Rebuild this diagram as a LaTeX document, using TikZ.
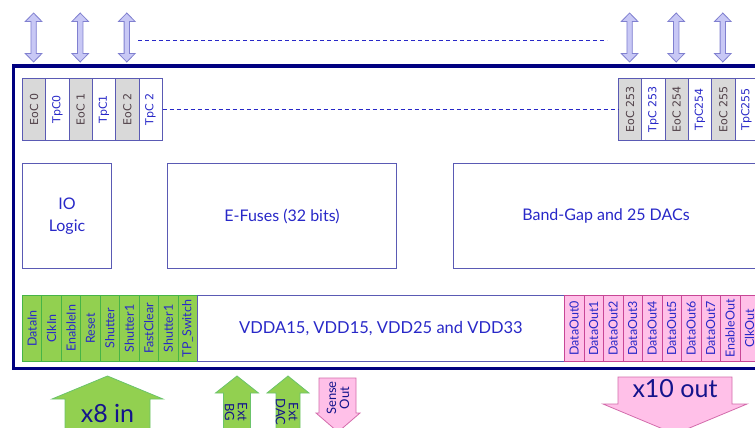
\documentclass[tikz,border=0pt]{standalone}
\usepackage{fontspec}
\setmainfont{Lato}
\newfontfamily\cellfont{DejaVu Sans}
\definecolor{framec}{RGB}{0,0,128}
\definecolor{boxc}{RGB}{90,90,180}
\definecolor{txtc}{RGB}{40,40,200}
\definecolor{darktxt}{RGB}{20,20,140}
\definecolor{eoctxt}{RGB}{80,64,72}
\definecolor{eocfill}{RGB}{217,217,217}
\definecolor{arrfill}{RGB}{200,200,245}
\definecolor{arrline}{RGB}{128,128,208}
\definecolor{gfill}{RGB}{146,208,80}
\definecolor{gline}{RGB}{70,180,70}
\definecolor{pfill}{RGB}{255,192,232}
\definecolor{pline}{RGB}{200,70,150}
\begin{document}
\begin{tikzpicture}[x=1pt,y=-1pt,
  box/.style={draw=boxc, line width=1pt, fill=white, inner sep=0pt, anchor=north west, text=txtc, align=center},
  ecell/.style={draw=boxc, line width=0.8pt, fill=eocfill, inner sep=0pt, anchor=north west, minimum width=23.3pt, minimum height=62pt},
  tcell/.style={ecell, fill=white},
  elab/.style={rotate=90, inner sep=0pt, text=eoctxt, font=\cellfont\fontsize{11}{12}\selectfont},
  tlab/.style={elab, text=txtc},
  gcell/.style={draw=gline, line width=0.8pt, fill=gfill, inner sep=0pt, anchor=north west, minimum width=19.45pt, minimum height=66pt},
  pcell/.style={gcell, draw=pline, fill=pfill, minimum width=19.5pt},
  vlab/.style={rotate=90, inner sep=0pt, text=txtc, font=\fontsize{12.5}{14}\selectfont},
  dblarrow/.style={draw=arrline, line width=0.8pt, fill=arrfill},
  garrow/.style={draw=gline!80, line width=0.8pt, fill=gfill},
  parrow/.style={draw=pline!80, line width=0.8pt, fill=pfill},
  dashline/.style={draw=txtc, line width=0.7pt, dash pattern=on 4pt off 3pt},
  bigtxt/.style={text=darktxt, font=\fontsize{25}{28}\selectfont, inner sep=0pt},
  smalltxt/.style={text=darktxt, font=\fontsize{13}{13}\selectfont, inner sep=0pt, align=center}
]
\useasboundingbox (0,0) rectangle (755,428);
\clip (0,0) rectangle (755,428);

% outer chip frame
\draw[framec, line width=3.4pt] (13.3,66) rectangle (800,368.5);

% bidirectional column arrows
\foreach \c in {33.6,80.2,126.8,629.6,676.2,722.8}{
  \draw[dblarrow] (\c,13) -- (\c+8.3,21.5) -- (\c+2.7,21.5) -- (\c+2.7,53.5)
    -- (\c+8.3,53.5) -- (\c,62) -- (\c-8.3,53.5) -- (\c-2.7,53.5)
    -- (\c-2.7,21.5) -- (\c-8.3,21.5) -- cycle;
}
\coordinate (dA) at (138,40);
\coordinate (dB) at (607,40);
\draw[dashline] (dA) -- (dB);

% column cells, left end
\foreach \n/\tl [count=\i from 0] in {0/TpC0,1/TpC1,2/TpC 2}{
  \node[ecell] (e\n) at ({22+46.6*\i},78) {};
  \node[elab] at (e\n) {EoC \n};
  \node[tcell] (t\n) at ({45.3+46.6*\i},78) {};
  \node[tlab] at (t\n) {\tl};
}
% column cells, right end
\foreach \n/\tl [count=\i from 0] in {253/TpC 253,254/TpC254,255/TpC255}{
  \node[ecell] (e\n) at ({618+46.6*\i},78) {};
  \node[elab] at (e\n) {EoC \n};
  \node[tcell] (t\n) at ({641.3+46.6*\i},78) {};
  \node[tlab] at (t\n) {\tl};
}
\draw[dashline] (t2.east) -- (e253.west);

% periphery blocks
\node[box, minimum width=89pt, minimum height=105pt, font=\fontsize{16}{22}\selectfont] (io) at (22,163) {IO\\Logic};
\node[box, minimum width=229pt, minimum height=105pt, font=\fontsize{16}{19}\selectfont] (fuse) at (167,163) {E-Fuses (32 bits)};
\node[box, minimum width=305pt, minimum height=105pt, font=\fontsize{16}{19}\selectfont] (bg) at (453,163) {Band-Gap and 25 DACs};

% input pads
\foreach \lab [count=\i from 0] in {DataIn,ClkIn,EnableIn,Reset,Shutter,Shutter1,FastClear,Shutter1,TP\_Switch}{
  \node[gcell] (g\i) at ({22+19.45*\i},295) {};
  \node[vlab] at (g\i) {\lab};
}
% supply block
\node[box, minimum width=367pt, minimum height=66pt, font=\fontsize{16.5}{19}\selectfont] (vdd) at (197,295) {VDDA15, VDD15, VDD25 and VDD33};
% output pads
\foreach \lab [count=\i from 0] in {DataOut0,DataOut1,DataOut2,DataOut3,DataOut4,DataOut5,DataOut6,DataOut7,EnableOut,ClkOut}{
  \node[pcell] (p\i) at ({564+19.5*\i},295) {};
  \node[vlab] at (p\i) {\lab};
}

% block arrows below the chip
\draw[garrow] (107.5,376) -- (163,399) -- (150,399) -- (150,440) -- (65,440) -- (65,399) -- (52,399) -- cycle;
\node[bigtxt] (xin) at (107.5,413) {x8 in};

\draw[garrow] (237,376) -- (258.5,393) -- (250.5,393) -- (250.5,440) -- (223.5,440) -- (223.5,393) -- (215.5,393) -- cycle;
\node[smalltxt, rotate=-90] (extbg) at (236,412) {Ext\\BG};

\draw[garrow] (288,376) -- (309,393) -- (300,393) -- (300,440) -- (276,440) -- (276,393) -- (267,393) -- cycle;
\node[smalltxt, rotate=-90] (extdac) at (287,412) {Ext\\DAC};

\draw[parrow] (319,378) -- (356,378) -- (356,413) -- (360,413) -- (338,432) -- (316,413) -- (319,413) -- cycle;
\node[smalltxt, rotate=90] (sense) at (338,398) {Sense\\Out};

\draw[parrow] (618,377) -- (732,377) -- (732,404) -- (747,404) -- (675,434) -- (603,404) -- (618,404) -- cycle;
\node[bigtxt] (xout) at (675,389) {x10 out};
\end{tikzpicture}
\end{document}
